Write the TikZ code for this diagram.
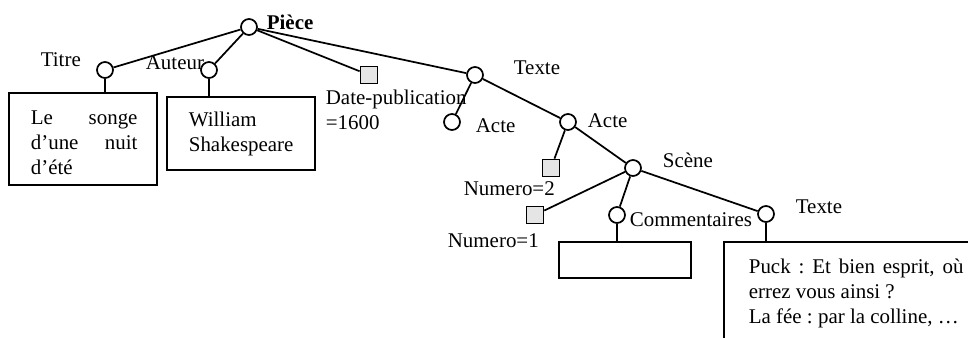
\documentclass[tikz,border=0pt]{standalone}
\usepackage{fontspec}
\setmainfont{Liberation Serif}
\newcommand\mydfont{\fontsize{15.7}{18.75}\selectfont}
\frenchspacing
\begin{document}
\begin{tikzpicture}[x=0.75pt,y=-0.75pt, line width=1.3pt,
  every node/.style={font=\mydfont, inner sep=0pt},
  dot/.style={circle, draw, minimum size=12pt},
  leaf/.style={rectangle, draw, fill=black!10, minimum size=12.75pt},
  box/.style={rectangle, draw},
  lbl/.style={anchor=west}]
\useasboundingbox (0,0) rectangle (968,338);
\clip (0,0) rectangle (968,338);
% tree nodes
\node[dot] (piece) at (249,27) {};
\node[lbl, font=\mydfont\bfseries] (piecel) at (266,22) {Pièce};
\node[dot] (titre) at (105,70) {};
\node[lbl] (titrel) at (40,60) {Titre};
\node[dot] (auteur) at (209,70) {};
\node[lbl] (auteurl) at (145,63) {Auteur};
\node[leaf] (date) at (369,75) {};
\node[lbl, align=left] (datel) at (325,110) {Date-publication\\=1600};
\node[dot] (texte) at (475,75) {};
\node[lbl] (textel) at (513,68) {Texte};
\node[dot] (acte1) at (452,122) {};
\node[lbl] (acte1l) at (475,126) {Acte};
\node[dot] (acte2) at (568,122) {};
\node[lbl] (acte2l) at (587,121) {Acte};
\node[leaf] (num2) at (551,168) {};
\node[lbl] (num2l) at (463,189) {Numero=2};
\node[dot] (scene) at (633,168) {};
\node[lbl] (scenel) at (662,160) {Scène};
\node[leaf] (num1) at (535,215) {};
\node[lbl] (num1l) at (447,241) {Numero=1};
\node[dot] (comm) at (617,215) {};
\node[lbl] (comml) at (629,220) {Commentaires};
\node[dot] (texte2) at (766,214) {};
\node[lbl] (texte2l) at (795,207) {Texte};
% boxes
\node[box, minimum width=111pt, minimum height=69pt] (titrebox) at (83,139) {};
\node[lbl, align=left] (titret) at (30,143)
  {\makebox[80pt]{Le\hfill songe}\\\makebox[80pt]{d’une\hfill nuit}\\d’été};
\node[box, minimum width=111pt, minimum height=54.75pt] (auteurbox) at (241,133.5) {};
\node[lbl, align=left] (auteurt) at (188,134) {William\\Shakespeare};
\node[box, minimum width=99pt, minimum height=27pt] (commbox) at (625,260) {};
\node[box, minimum width=207pt, minimum height=88.5pt] (textebox) at (862,301) {};
\node[lbl, align=left] (textet) at (748,293)
  {\makebox[161pt]{Puck\hfill:\hfill Et\hfill bien\hfill esprit,\hfill où}\\errez vous ainsi ?\\La fée : par la colline, …};
% connectors
\draw (piece) -- (titre);
\draw (piece) -- (auteur);
\draw (piece) -- (date);
\draw (piece) -- (texte);
\draw (texte) -- (acte1);
\draw (texte) -- (acte2);
\draw (acte2) -- (num2);
\draw (acte2) -- (scene);
\draw (scene) -- (num1);
\draw (scene) -- (comm);
\draw (scene) -- (texte2);
\draw (titre.south) -- (titre.south |- titrebox.north);
\draw (auteur.south) -- (auteur.south |- auteurbox.north);
\draw (comm.south) -- (comm.south |- commbox.north);
\draw (texte2.south) -- (texte2.south |- textebox.north);
\end{tikzpicture}
\end{document}
